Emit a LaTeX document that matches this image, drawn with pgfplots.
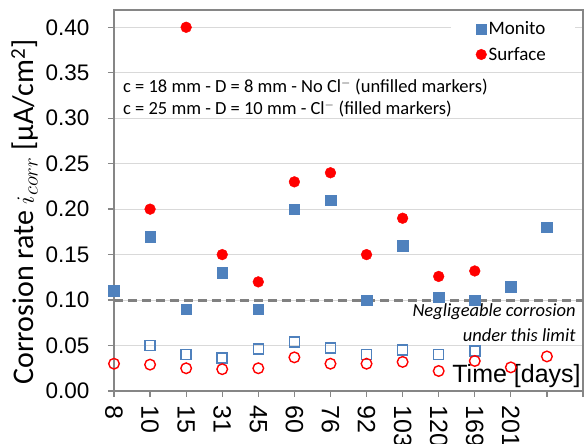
\documentclass[border=0pt]{standalone}
\usepackage{fontspec}
\setmainfont{Liberation Sans}
\newfontfamily\calibri{Carlito}
\usepackage{pgfplots}
\pgfplotsset{compat=1.18}
\usetikzlibrary{calc}
\definecolor{monito}{RGB}{79,129,189}
\definecolor{gridc}{RGB}{217,217,217}
\definecolor{axc}{RGB}{134,134,134}
\definecolor{dashc}{RGB}{128,128,128}

\begin{document}
\begin{tikzpicture}
\begin{axis}[
  scale only axis, width=469pt, height=381pt,
  xmin=0, xmax=13, ymin=0, ymax=0.419,
  clip=false,
  axis line style={draw=axc, line width=1.3pt},
  tick pos=left, tick align=outside, major tick length=6pt,
  tick style={draw=axc, line width=1.3pt},
  xtick={0,...,13},
  xticklabels={8,10,15,31,45,60,76,92,103,120,169,201,,},
  x tick label style={rotate=-90, anchor=west, xshift=5pt, font=\fontsize{25}{28}\selectfont},
  ytick={0,0.05,0.10,0.15,0.20,0.25,0.30,0.35,0.40},
  y tick label style={font=\fontsize{22.5}{26}\selectfont, xshift=-15pt,
    /pgf/number format/.cd, fixed, fixed zerofill, precision=2, assume math mode=true},
  ymajorgrids, grid style={draw=gridc, line width=1pt},
  ylabel={Corrosion rate $i_{corr}$ [µA/cm\textsuperscript{2}]},
  ylabel style={at={(axis description cs:-0.19,0.47)}, anchor=center, font=\calibri\fontsize{30}{34}\selectfont},
  legend style={at={(axis description cs:0.932,0.983)}, anchor=north east, draw=none, fill=white,
    font=\calibri\fontsize{19}{22}\selectfont, row sep=7pt, inner sep=3pt},
  legend cell align=left,
]
\coordinate (ll) at (rel axis cs:0,0);
\coordinate (ur) at (rel axis cs:1,1);

% break in the top grid line behind the legend
\fill[white] (axis cs:9.35,0.405) rectangle (axis cs:12.78,0.395);

% negligible corrosion limit
\addplot[dashc, line width=3pt, dash pattern=on 9pt off 5pt, forget plot] coordinates {(0,0.1) (13,0.1)};

% Monito, filled (Cl-)
\addplot[only marks, mark=square*, mark size=5.3pt, color=monito, forget plot] coordinates {
(0,0.110) (1,0.170) (2,0.090) (3,0.130) (4,0.090) (5,0.200) (6,0.210)
(7,0.100) (8,0.160) (9,0.103) (10,0.100) (11,0.115) (12,0.180)
};
% Surface, filled (Cl-)
\addplot[only marks, mark=*, mark size=5.4pt, color=red, forget plot] coordinates {
(1,0.200) (2,0.400) (3,0.150) (4,0.120) (5,0.230) (6,0.240)
(7,0.150) (8,0.190) (9,0.126) (10,0.132)
};
% Monito, unfilled (no Cl-)
\addplot[only marks, mark=square, mark size=5pt, color=monito, line width=1.6pt, forget plot] coordinates {
(1,0.050) (2,0.040) (3,0.036) (4,0.046) (5,0.054) (6,0.047)
(7,0.040) (8,0.045) (9,0.040) (10,0.044)
};
% Surface, unfilled (no Cl-)
\addplot[only marks, mark=o, mark size=5.3pt, color=red, line width=1.4pt, forget plot] coordinates {
(0,0.030) (1,0.029) (2,0.025) (3,0.024) (4,0.025) (5,0.037) (6,0.030)
(7,0.030) (8,0.032) (9,0.022) (10,0.033) (11,0.026) (12,0.038)
};

\addlegendimage{only marks, mark=square*, mark size=5pt, color=monito}
\addlegendentry{Monito}
\addlegendimage{only marks, mark=*, mark size=5.3pt, color=red}
\addlegendentry{Surface}

\node[anchor=west, font=\calibri\fontsize{18.5}{22}\selectfont, inner sep=0pt] at (axis cs:0.25,0.334)
  {c = 18 mm - D = 8 mm - No Cl$^-$ (unfilled markers)};
\node[anchor=west, font=\calibri\fontsize{18.5}{22}\selectfont, inner sep=0pt] at (axis cs:0.25,0.310)
  {c = 25 mm - D = 10 mm - Cl$^-$ (filled markers)};
\node[anchor=east, font=\calibri\itshape\fontsize{18.5}{22}\selectfont, inner sep=0pt] at (axis cs:12.8,0.0868)
  {Negligeable corrosion};
\node[anchor=east, font=\calibri\itshape\fontsize{18.5}{22}\selectfont, inner sep=0pt] at (axis cs:12.8,0.0615)
  {under this limit};
\node[anchor=east, font=\fontsize{25}{28}\selectfont, inner sep=0pt] at (axis cs:12.94,0.0165)
  {Time [days]};
\end{axis}
\pgfresetboundingbox
\useasboundingbox ($(ll)+(-114pt,-53pt)$) rectangle ($(ur)+(1pt,10pt)$);
\end{tikzpicture}
\end{document}
